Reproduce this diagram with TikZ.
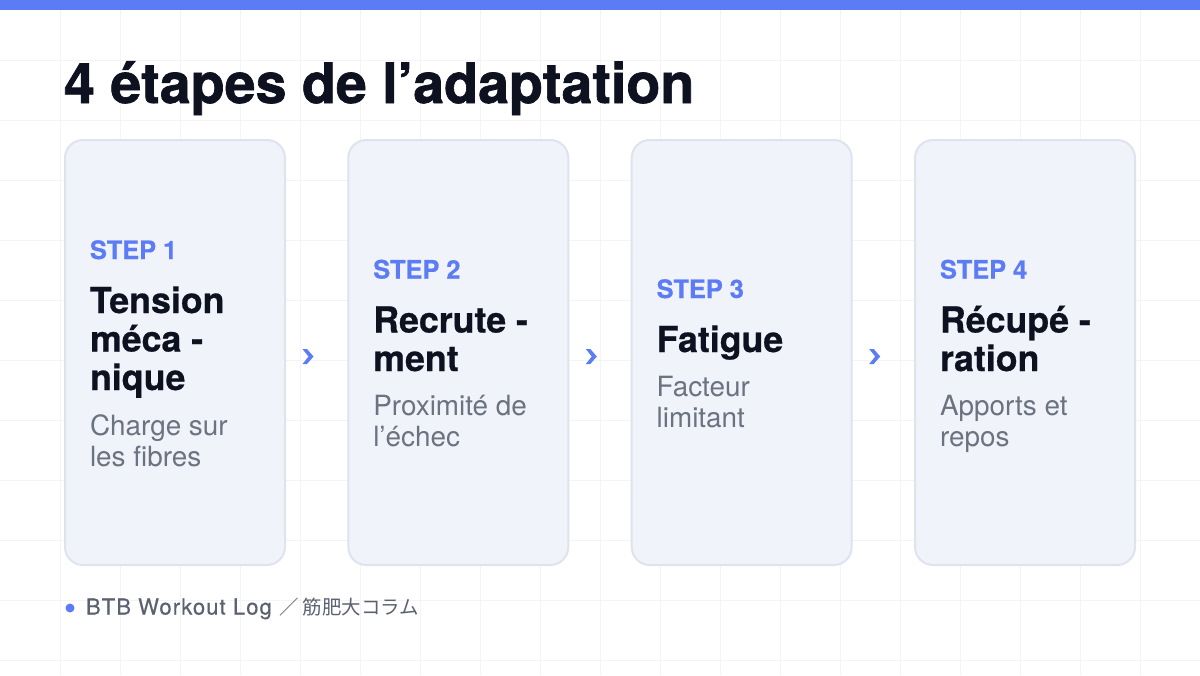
\documentclass[tikz,border=0pt]{standalone}
\usepackage{fontspec}
\setmainfont{TeX Gyre Heros}
\newfontfamily\heavyfont[FakeBold=1.2]{TeX Gyre Heros Bold}
\newfontfamily\semifont[FakeBold=0.6]{TeX Gyre Heros Bold}
\newfontfamily\footfont[LetterSpace=5,FakeBold=0.3]{TeX Gyre Heros}
\newfontfamily\cjk{Noto Sans CJK JP}
\usetikzlibrary{calc}
\definecolor{accent}{HTML}{5B7CF5}
\definecolor{ink}{HTML}{0E1220}
\definecolor{muted}{HTML}{6B7280}
\definecolor{footc}{HTML}{5B6170}
\definecolor{cardfill}{HTML}{F1F3FB}
\definecolor{cardline}{HTML}{DFE3EE}
\definecolor{gridc}{HTML}{F3F4F7}
\tikzset{
  card/.style={draw=cardline, fill=cardfill, line width=1.5pt, rounded corners=13.5pt,
    minimum width=165pt, minimum height=318.75pt, inner sep=0pt},
  txt/.style={anchor=base west, inner sep=0pt, outer sep=0pt},
  steplbl/.style={txt, text=accent, font=\fontsize{19pt}{22pt}\semifont},
  ttl/.style={txt, text=ink, font=\fontsize{26.8pt}{30pt}\semifont},
  desc/.style={txt, text=muted, font=\fontsize{20.9pt}{24pt}\selectfont},
  chev/.style={fill=accent},
}
\begin{document}
\begin{tikzpicture}[x=0.75pt,y=-0.75pt]
\useasboundingbox (0,0) rectangle (1200,675);
\fill[white] (0,0) rectangle (1200,675);
\foreach \g in {60,120,...,1140} \draw[gridc, line width=0.75pt] (\g,0) -- (\g,675);
\foreach \g in {60,120,...,660} \draw[gridc, line width=0.75pt] (0,\g) -- (1200,\g);
\fill[accent] (0,0) rectangle (1200,10);

\node[txt, text=ink, font=\fontsize{41.7pt}{48pt}\heavyfont] (title) at (64,103) {4 étapes de l’adaptation};

\node[card] (c1) at (175,352.5) {};
\node[card] (c2) at (458.3,352.5) {};
\node[card] (c3) at (741.7,352.5) {};
\node[card] (c4) at (1025,352.5) {};

% card 1
\node[steplbl] (s1) at (90,259) {STEP 1};
\node[ttl] (t1a) at (90,313) {Tension};
\node[ttl] (t1b) at (90,351.5) {méca -};
\node[ttl] (t1c) at (90,390) {nique};
\node[desc] (d1a) at (90,435) {Charge sur};
\node[desc] (d1b) at (90,466) {les fibres};

% card 2
\node[steplbl] (s2) at (373.3,278.5) {STEP 2};
\node[ttl] (t2a) at (373.3,332.5) {Recrute -};
\node[ttl] (t2b) at (373.3,371) {ment};
\node[desc] (d2a) at (373.3,415.5) {Proximité de};
\node[desc] (d2b) at (373.3,446.5) {l’échec};

% card 3
\node[steplbl] (s3) at (656.7,298) {STEP 3};
\node[ttl] (t3a) at (656.7,352) {Fatigue};
\node[desc] (d3a) at (656.7,396) {Facteur};
\node[desc] (d3b) at (656.7,427) {limitant};

% card 4
\node[steplbl] (s4) at (940,278.5) {STEP 4};
\node[ttl] (t4a) at (940,332.5) {Récupé -};
\node[ttl] (t4b) at (940,371) {ration};
\node[desc] (d4a) at (940,415.5) {Apports et};
\node[desc] (d4b) at (940,446.5) {repos};

% chevrons
\foreach \a in {c1,c2,c3} {
  \coordinate (m) at ($(\a.east)+(22,4)$);
  \fill[chev] ($(m)+(-5.5,-7.5)$) -- ($(m)+(-1,-7.5)$) -- ($(m)+(5.5,0)$)
     -- ($(m)+(-1,7.5)$) -- ($(m)+(-5.5,7.5)$) -- ($(m)+(0.5,0)$) -- cycle;
}

% footer
\fill[accent] (70,608) circle[radius=4.5];
\node[txt, text=footc, font=\fontsize{16.5pt}{20pt}\footfont] (foot) at (86,614.5)
  {BTB Workout Log {\cjk\fontsize{14.6pt}{18pt}\selectfont ／ 筋肥大コラム}};
\end{tikzpicture}
\end{document}
